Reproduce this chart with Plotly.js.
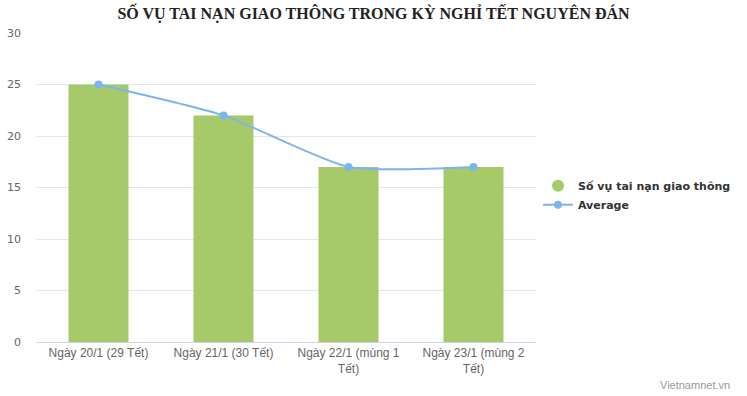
<!DOCTYPE html>
<html>
<head>
<meta charset="utf-8">
<script src="https://cdn.plot.ly/plotly-3.0.1.min.js"></script>
<style>html,body{margin:0;padding:0;background:#fff;}#chart{width:747px;height:396px;}</style>
</head>
<body>
<div id="chart"></div>
<script>
const categories = ["Ngày 20/1 (29 Tết)", "Ngày 21/1 (30 Tết)", "Ngày 22/1 (mùng 1<br>Tết)", "Ngày 23/1 (mùng 2<br>Tết)"];
const accidents = [25, 22, 17, 17];
const average = [25, 22, 17, 17];
const yTicks = [0, 5, 10, 15, 20, 25, 30];

const traces = [
  {
    type: "bar", x: categories, y: accidents, name: "Số vụ tai nạn giao thông",
    marker: {color: "#a6c96a"}, width: 0.48, showlegend: false, hoverinfo: "x+y"
  },
  {
    type: "scatter", mode: "markers", x: [null], y: [null], name: "Số vụ tai nạn giao thông",
    marker: {color: "#a6c96a", size: 12, symbol: "circle"}
  },
  {
    type: "scatter", mode: "lines+markers", x: categories, y: average, name: "Average",
    line: {color: "#7cb5ec", width: 2, shape: "spline", smoothing: 0.6},
    marker: {color: "#7cb5ec", size: 8}
  }
];

const layout = {
  width: 747, height: 396,
  margin: {l: 36, r: 210, t: 33, b: 54},
  paper_bgcolor: "#fff", plot_bgcolor: "#fff",
  title: {
    text: "<b>SỐ VỤ TAI NẠN GIAO THÔNG TRONG KỲ NGHỈ TẾT NGUYÊN ĐÁN</b>",
    font: {family: "Liberation Serif, Times New Roman, serif", size: 16, color: "#222"},
    x: 0.5, xref: "container", xanchor: "center", y: 0.965, yref: "container", yanchor: "middle"
  },
  xaxis: {
    type: "category", showgrid: false, zeroline: false,
    showline: true, linecolor: "#ccd6eb", linewidth: 1,
    ticks: "", tickfont: {family: "Liberation Sans, Arial, sans-serif", size: 12, color: "#666"},
    fixedrange: true
  },
  yaxis: {
    range: [0, 30], tickvals: yTicks, ticktext: yTicks.map(String),
    showgrid: true, gridcolor: "#e6e6e6", gridwidth: 1, zeroline: false,
    tickfont: {family: "DejaVu Sans, Verdana, sans-serif", size: 11, color: "#666"},
    ticklabelstandoff: 14, fixedrange: true
  },
  legend: {
    x: 1.002, xanchor: "left", y: 0.475, yanchor: "middle",
    font: {family: "DejaVu Sans, Verdana, sans-serif", size: 11, color: "#333", weight: "bold"},
    tracegroupgap: 0, itemwidth: 30, bgcolor: "rgba(0,0,0,0)"
  },
  annotations: [
    {text: "Vietnamnet.vn", xref: "paper", yref: "paper", x: 1.391, y: -0.14, xanchor: "right", yanchor: "middle",
     showarrow: false, font: {family: "Liberation Sans, Arial, sans-serif", size: 11, color: "#999"}}
  ],
  showlegend: true
};

Plotly.newPlot("chart", traces, layout, {displayModeBar: false, staticPlot: true});
</script>
</body>
</html>
